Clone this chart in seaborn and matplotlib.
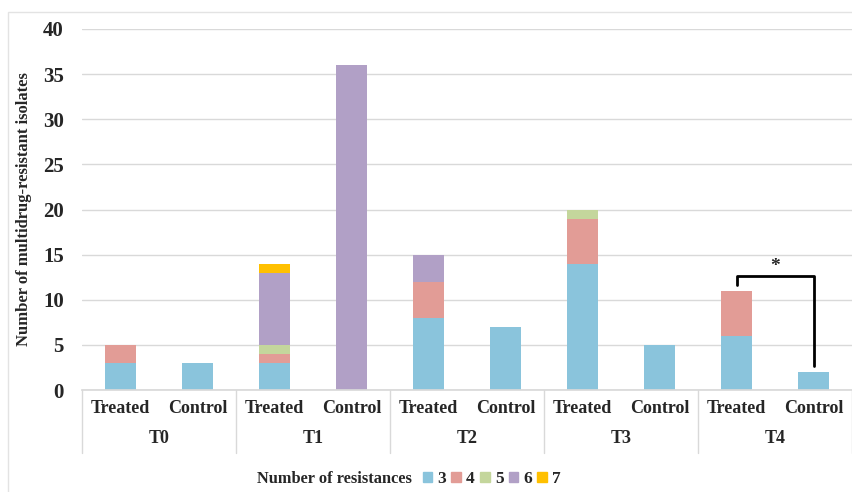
import numpy as np
import pandas as pd
import matplotlib
matplotlib.use("Agg")
import matplotlib.pyplot as plt
import matplotlib.patches as mpatches
import seaborn as sns

# data
periods = ['T0', 'T1', 'T2', 'T3', 'T4']
groups = ['Treated', 'Control']
resistances = ['3', '4', '5', '6', '7']
# one list per number of resistances, order: T0 Treated, T0 Control, T1 Treated, ...
res_3 = [3, 3, 3, 0, 8, 7, 14, 5, 6, 2]
res_4 = [2, 0, 1, 0, 4, 0, 5, 0, 5, 0]
res_5 = [0, 0, 1, 0, 0, 0, 1, 0, 0, 0]
res_6 = [0, 0, 8, 36, 3, 0, 0, 0, 0, 0]
res_7 = [0, 0, 1, 0, 0, 0, 0, 0, 0, 0]
colors = ['#8ac4dc', '#e29c96', '#c4d69c', '#b1a0c6', '#ffc000']

sns.set_theme(style='white')
plt.rcParams['font.family'] = ['Liberation Serif', 'DejaVu Serif']
plt.rcParams['font.weight'] = 'bold'

bars = [f'{p} {g}' for p in periods for g in groups]
df = pd.DataFrame({'bar': bars, '3': res_3, '4': res_4, '5': res_5, '6': res_6, '7': res_7})

fig = plt.figure(figsize=(8.53, 4.92), dpi=100)
ax = fig.add_axes([82 / 853, 1 - 390 / 492, 770 / 853, 361 / 492])

bottom = np.zeros(len(df))
for r, c in zip(resistances, colors):
    sns.barplot(data=df, x='bar', y=r, order=bars, color=c, width=0.39,
                bottom=bottom, errorbar=None, saturation=1, ax=ax,
                linewidth=0)
    bottom = bottom + df[r].values

ax.set_ylim(0, 40)
ax.set_xlim(-0.5, len(bars) - 0.5)
ax.set_yticks(range(0, 41, 5))
ax.yaxis.grid(True, color='#d9d9d9', linewidth=1)
ax.set_axisbelow(True)
for s in ['top', 'right', 'left']:
    ax.spines[s].set_visible(False)
ax.spines['bottom'].set_color('#d9d9d9')
ax.tick_params(axis='y', length=0, pad=13, labelsize=15)
ax.tick_params(axis='x', length=0, pad=7, labelsize=13)
ax.set_xticks(range(len(bars)))
ax.set_xticklabels([g for p in periods for g in groups])
ax.set_xlabel('')
ax.set_ylabel('Number of multidrug-resistant isolates', fontsize=12,
              fontweight='bold')
ax.yaxis.set_label_coords(-0.065, 0.5)

# period labels and separators under the axis
trans = ax.get_xaxis_transform()
for i, p in enumerate(periods):
    ax.text(2 * i + 0.5, -0.135, p, transform=trans, ha='center', va='center',
            fontsize=13, fontweight='bold')
for k in range(len(periods) + 1):
    ax.plot([2 * k - 0.5, 2 * k - 0.5], [0, -0.175], transform=trans,
            color='#d9d9d9', lw=1, clip_on=False)

# significance bracket T4 Treated vs Control
i_t, i_c = 8, 9
tot = bottom
y_top = tot[i_t] + 1.6
ax.plot([i_t, i_t, i_c, i_c], [tot[i_t] + 0.6, y_top, y_top, tot[i_c] + 0.7],
        color='black', lw=2)
ax.text((i_t + i_c) / 2, y_top + 0.1, '*', ha='center', va='bottom',
        fontsize=14, fontweight='bold')

# legend at bottom with title on the left
handles = [mpatches.Patch(color=c) for c in colors]
fig.text(412 / 853, 1 - 479 / 492, 'Number of resistances', ha='right',
         va='center', fontsize=11.8, fontweight='bold')
fig.legend(handles, resistances, loc='center left',
           bbox_to_anchor=(414 / 853, 1 - 479 / 492), ncol=5, frameon=False,
           handlelength=0.55, handleheight=0.55, handletextpad=0.3,
           columnspacing=0.3, fontsize=12.5, borderpad=0)

# light frame around the chart area
fig.patches.append(mpatches.Rectangle((8 / 853, -0.01), 850 / 853, 1 - 12 / 492 + 0.01,
                                      transform=fig.transFigure, fill=False,
                                      edgecolor='#e3e3e3', lw=1))

fig.savefig('out.png', dpi=100)
